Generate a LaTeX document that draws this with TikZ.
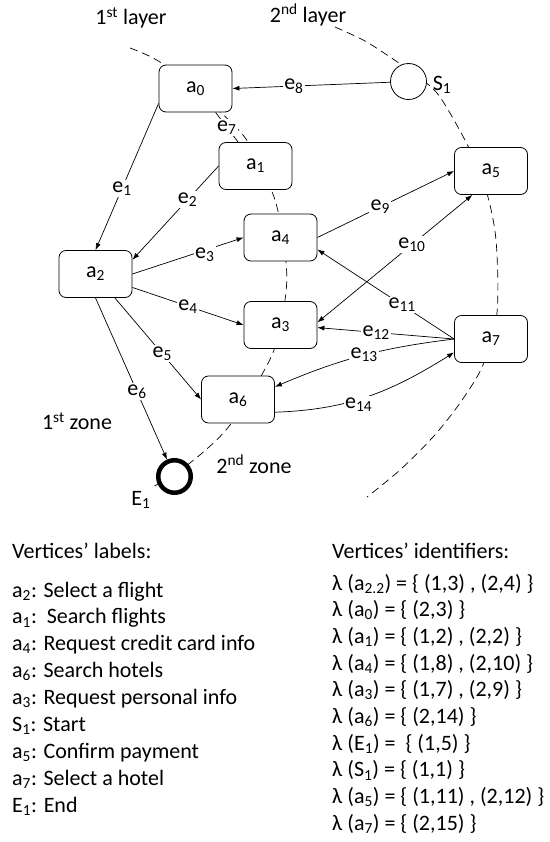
\documentclass[tikz,border=0pt]{standalone}
\usepackage{fontspec}
\setmainfont{Carlito}
\usetikzlibrary{arrows.meta, positioning}

\newcommand{\vtx}[1]{a\textsubscript{#1}}
\newcommand{\edg}[1]{e\textsubscript{#1}}

\tikzset{
    activity/.style={draw, rounded corners=7bp, minimum width=73bp, minimum height=47bp, fill=white, line width=0.8bp},
    startstate/.style={draw, circle, minimum size=36bp, inner sep=0pt, fill=white, line width=0.8bp},
    endstate/.style={draw, circle, minimum size=32.5bp, inner sep=0pt, fill=white, line width=4.5bp},
    elabel/.style={fill=white, inner sep=1.5bp},
    layer/.style={dash pattern=on 8bp off 5bp, line width=0.7bp},
    flow/.style={-{Latex[length=7bp,width=5bp]}, line width=0.7bp},
    biflow/.style={{Latex[length=7bp,width=5bp]}-{Latex[length=7bp,width=5bp]}, line width=0.7bp},
    listitem/.style={anchor=base west, inner sep=0pt},
}

\begin{document}
\begin{tikzpicture}[x=1bp, y=-1bp, font=\fontsize{22bp}{27bp}\selectfont]

\useasboundingbox (0, 0) rectangle (550, 842);

% layers
\draw[layer] plot[smooth] coordinates {(130,48) (160,62) (203,97) (246,139) (275,200) (286,262) (285,300) (272,355) (230,425) (190,463) (153,487)};
\draw[layer] plot[smooth] coordinates {(335,27) (365,41) (393,59) (420,78) (440,97) (468,146) (486,190) (496,240) (497,313) (483,365) (460,403) (433,437) (400,470) (367,497)};

\node (layer-1) at (131, 18) {1\textsuperscript{st} layer};
\node (layer-2) at (308, 15) {2\textsuperscript{nd} layer};
\node (zone-1) at (77, 421) {1\textsuperscript{st} zone};
\node (zone-2) at (254, 464) {2\textsuperscript{nd} zone};

% activities
\node[activity] (a0) at (195.5, 88.5) {\vtx{0}};
\node[activity] (a1) at (255.5, 166) {\vtx{1}};
\node[activity] (a2) at (95.5, 274) {\vtx{2}};
\node[activity] (a3) at (280.5, 325) {\vtx{3}};
\node[activity] (a4) at (280.5, 237.5) {\vtx{4}};
\node[activity] (a5) at (491, 171) {\vtx{5}};
\node[activity] (a6) at (238, 399.5) {\vtx{6}};
\node[activity] (a7) at (491, 339) {\vtx{7}};

% start and end
\node[startstate] (S1) at (408.5, 81.5) {};
\node (S1-name) at (442, 85) {S\textsubscript{1}};
\node[endstate] (E1) at (174.5, 476.5) {};
\node (E1-name) at (141, 500) {E\textsubscript{1}};

% transitions
\draw[flow] (a0.202) -- node[elabel, pos=.58] {\edg{1}} (a2.north);
\draw[flow] (a1.west) -- node[elabel, pos=.36] {\edg{2}} (a2.21);
\draw[flow] (a2.east) -- node[elabel, pos=.65, yshift=-4bp] {\edg{3}} (a4.west);
\draw[flow] (a2.340) -- node[elabel, pos=.5] {\edg{4}} (a3.west);
\draw[flow] (a2.309) -- node[elabel, pos=.55] {\edg{5}} (a6.west);
\draw[flow] (a2.south) -- node[elabel, pos=.58] {\edg{6}} (E1);
\draw[line width=0.7bp] (a1.126) -- node[elabel] {\edg{7}} (a0.310);
\draw[flow] (S1) -- node[elabel, pos=.61] {\edg{8}} (a0.east);
\draw[flow] (a4.east) -- node[elabel, pos=.46] {\edg{9}} (a5.west);
\draw[biflow] (a3.4) -- node[elabel, pos=.61] {\edg{10}} (a5.232);
\draw[flow] (a7.west) -- node[elabel, pos=.38] {\edg{11}} (a4.342);
\draw[flow] (a7.west) -- node[elabel, pos=.57] {\edg{12}} (a3.356);
\draw[flow] (a7.west) to[out=187, in=23] node[elabel, pos=.49] {\edg{13}} (a6.19);
\draw[flow] (a6.341) to[out=2, in=212] node[elabel, pos=.44, yshift=-5bp] {\edg{14}} (a7.200);

% vertices' labels
\node[listitem] (labels) at (12, 558) {Vertices’ labels:};
\foreach \txt [count=\i from 0] in {
    {\vtx{2}: Select a flight},
    {\vtx{1}:\ \ Search flights},
    {\vtx{4}: Request credit card info},
    {\vtx{6}: Search hotels},
    {\vtx{3}: Request personal info},
    {S\textsubscript{1}: Start},
    {\vtx{5}: Confirm payment},
    {\vtx{7}: Select a hotel},
    {E\textsubscript{1}: End}} {
    \node[listitem] (label-\i) at (12, 597+26.9*\i) {\txt};
}

% vertices' identifiers
\node[listitem] (identifiers) at (332, 558) {Vertices’ identifiers:};
\foreach \txt [count=\i from 0] in {
    {λ (\vtx{2.2}) = \{ (1,3) , (2,4) \}},
    {λ (\vtx{0}) = \{ (2,3) \}},
    {λ (\vtx{1}) = \{ (1,2) , (2,2) \}},
    {λ (\vtx{4}) = \{ (1,8) , (2,10) \}},
    {λ (\vtx{3}) = \{ (1,7) , (2,9) \}},
    {λ (\vtx{6}) = \{ (2,14) \}},
    {λ (E\textsubscript{1}) =\ \ \{ (1,5) \}},
    {λ (S\textsubscript{1}) = \{ (1,1) \}},
    {λ (\vtx{5}) = \{ (1,11) , (2,12) \}},
    {λ (\vtx{7}) = \{ (2,15) \}}} {
    \node[listitem] (identifier-\i) at (332, 590+26.7*\i) {\txt};
}

\end{tikzpicture}
\end{document}
